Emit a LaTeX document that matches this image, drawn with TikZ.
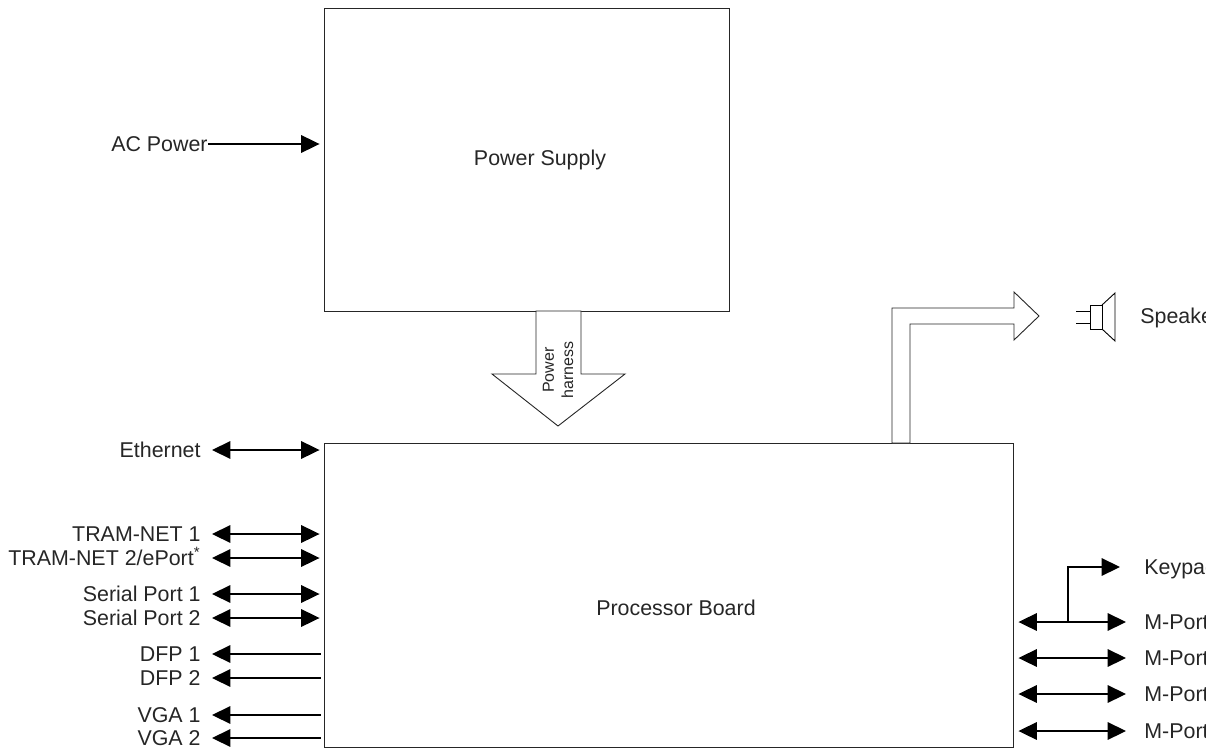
\documentclass[tikz,border=0pt]{standalone}
\usepackage{fontspec}
\setmainfont{Liberation Sans}
\usetikzlibrary{arrows.meta}
\tikzset{
  blockbox/.style={draw=black!85,line width=0.45pt,inner sep=0pt},
  portlabel/.style={inner sep=0pt,text height=7.4pt,text depth=0pt,text=black!85,font=\fontsize{10.7}{12}\selectfont},
  portline/.style={line width=0.65pt},
  hollowarrow/.style={draw=black!85,fill=white,line width=0.45pt,line join=miter},
  solidtip/.tip={Triangle[length=9.2pt,width=8.8pt]}
}
\begin{document}
\begin{tikzpicture}[x=0.5pt,y=-0.5pt]
  \useasboundingbox (0,0) rectangle (1220,749);
  \clip (0,0) rectangle (1205,749);
  \node[blockbox,minimum width=202.5pt,minimum height=151.5pt] (psu) at (526.5,159.5) {};
  \node[blockbox,minimum width=344.5pt,minimum height=152pt] (proc) at (668.5,595) {};
  \node[portlabel] at (540,158) {Power Supply};
  \node[portlabel] at (676,608) {Processor Board};
  % power harness arrow
  \draw[hollowarrow] (536,311) -- (536,374) -- (492,374) -- (558,426) -- (625,374) -- (581,374) -- (581,311) -- cycle;
  \node[rotate=90,align=center,inner sep=0pt,text=black!85,font=\fontsize{8}{9.6}\selectfont] (harness) at (558,370) {Power\\harness};
  % speaker arrow
  \draw[hollowarrow] (892,443) -- (892,308) -- (1014,308) -- (1014,292) -- (1039,316) -- (1014,340) -- (1014,324) -- (910,324) -- (910,443) -- cycle;
  \draw[line width=0.45pt] (1090,305) rectangle (1102,329);
  \draw[line width=0.45pt] (1102,305) -- (1115,293) -- (1115,341) -- (1102,329);
  \draw[line width=0.45pt] (1076,311) -- (1090,311) (1076,323) -- (1090,323);
  \node[portlabel,anchor=west] (speaker) at (1140,316) {Speaker};
  % left side
  \node[portlabel,anchor=east] (acpower) at (208,144) {AC Power};
  \draw[portline,-solidtip,shorten >=2pt] (acpower.east) -- (acpower.east -| psu.west);
  \foreach \n/\y/\t in {eth/450/Ethernet,tram1/534/TRAM-NET 1,tram2/558/TRAM-NET 2\slash ePort\textsuperscript{*},serial1/594/Serial Port 1,serial2/618/Serial Port 2} {
    \node[portlabel,anchor=east] (\n) at (201,\y) {\t};
    \draw[portline,solidtip-solidtip,shorten <=5.5pt,shorten >=2pt] (\n.east) -- (\n.east -| proc.west);
  }
  \foreach \n/\y/\t in {dfp1/654/DFP 1,dfp2/678/DFP 2,vga1/715/VGA 1,vga2/738/VGA 2} {
    \node[portlabel,anchor=east] (\n) at (201,\y) {\t};
    \draw[portline,solidtip-,shorten <=5.5pt,shorten >=1.5pt] (\n.east) -- (\n.east -| proc.west);
  }
  % right side
  \foreach \n/\y in {mport1/622,mport2/658,mport3/694,mport4/731} {
    \node[portlabel,anchor=west] (\n) at (1144,\y) {M-Port};
    \draw[portline,solidtip-solidtip,shorten <=2.5pt,shorten >=9pt] (\n.west -| proc.east) -- (\n.west);
  }
  \node[portlabel,anchor=west] (keypad) at (1144,567) {Keypad};
  \coordinate (tap) at (1068,622);
  \draw[portline,-solidtip,shorten >=12pt] (tap) |- (keypad.west);
\end{tikzpicture}
\end{document}
